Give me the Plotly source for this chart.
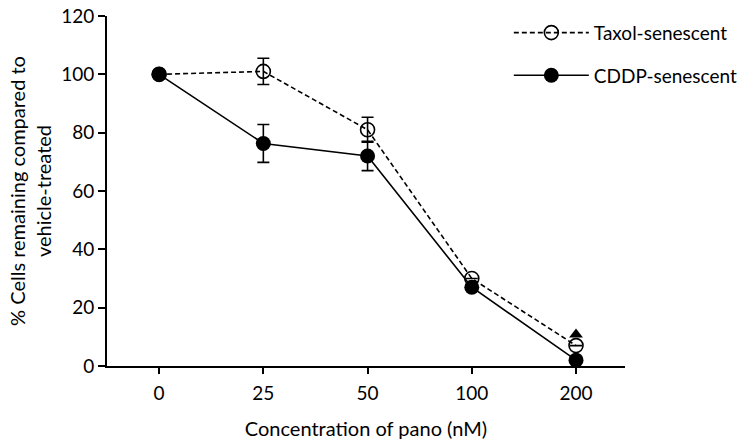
import plotly.graph_objects as go

concentrations = ["0", "25", "50", "100", "200"]
taxol_values = [100, 101, 81, 30, 7]
taxol_errors = [0, 4.5, 4.3, 0, 0]
cddp_values = [100, 76.3, 72, 27, 2]
cddp_errors = [0, 6.5, 5, 0, 0]
triangle_x = ["200"]
triangle_y = [10.8]

FONT = "Lato"

fig = go.Figure()
fig.add_trace(go.Scatter(
    x=concentrations, y=taxol_values, name="Taxol-senescent",
    mode="lines+markers",
    line=dict(color="black", width=1.6, dash="5px,3px"),
    marker=dict(symbol="circle-open", size=14, color="black", line=dict(width=1.6)),
    error_y=dict(type="data", array=taxol_errors, visible=True, color="black", thickness=1.6, width=6),
    legendgroup="a",
))
fig.add_trace(go.Scatter(
    x=concentrations, y=cddp_values, name="CDDP-senescent",
    mode="lines+markers",
    line=dict(color="black", width=1.6),
    marker=dict(symbol="circle", size=15, color="black"),
    error_y=dict(type="data", array=cddp_errors, visible=True, color="black", thickness=1.6, width=6),
    legendgroup="b",
))
fig.add_trace(go.Scatter(
    x=triangle_x, y=triangle_y, mode="markers", showlegend=False,
    marker=dict(symbol="triangle-up", size=12, color="black"),
))

fig.update_layout(
    width=745, height=443,
    margin=dict(l=107, r=120, t=16, b=77, autoexpand=False),
    plot_bgcolor="white", paper_bgcolor="white",
    font=dict(family=FONT, size=19, color="black"),
    showlegend=True,
    legend=dict(x=0.683, y=0.969, xanchor="left", yanchor="top", xref="container", yref="container",
                itemwidth=75, tracegroupgap=15, font=dict(size=19), bgcolor="rgba(0,0,0,0)",
                traceorder="grouped"),
    xaxis=dict(
        type="category", range=[-0.5, 4.47], showgrid=False, zeroline=False, automargin=False,
        showline=True, linecolor="black", linewidth=1.6,
        ticks="outside", ticklen=6, tickwidth=1.6, tickcolor="black", ticklabelstandoff=3,
        title=dict(text="Concentration of pano (nM)", standoff=19, font=dict(size=20)),
        tickfont=dict(size=19),
    ),
    yaxis=dict(
        range=[0, 120], tickvals=[0, 20, 40, 60, 80, 100, 120], showgrid=False, zeroline=False,
        automargin=False,
        showline=True, linecolor="black", linewidth=1.6,
        ticks="outside", ticklen=7, tickwidth=1.6, tickcolor="black",
        title=dict(text="% Cells remaining compared to<br>vehicle-treated", standoff=4, font=dict(size=20)),
        tickfont=dict(size=19),
    ),
)

fig.write_html("out.html", config={"displayModeBar": False},
               post_script="document.body.style.margin='0';")
